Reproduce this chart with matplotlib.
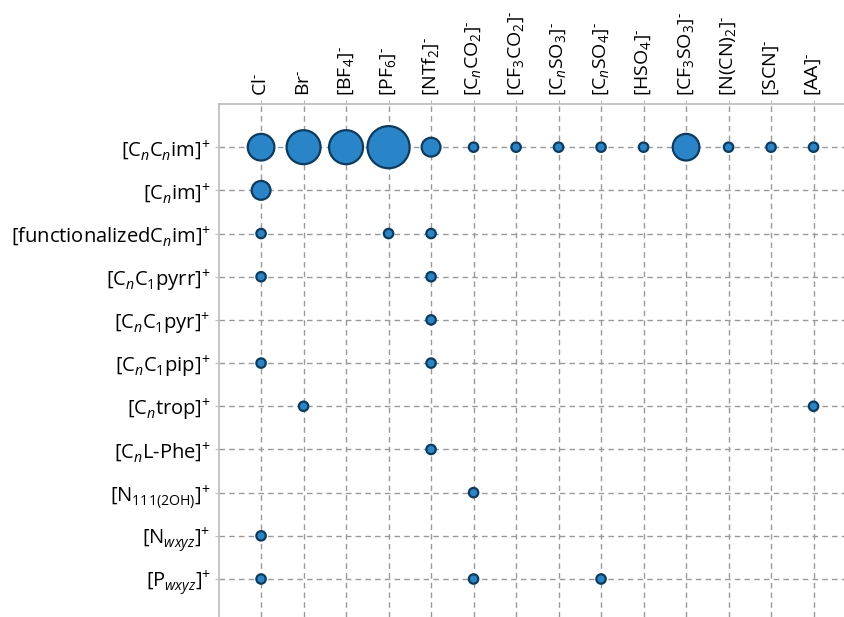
import numpy as np
import matplotlib.pyplot as plt

plt.rcParams['font.family'] = ['Open Sans', 'DejaVu Sans']
plt.rcParams['mathtext.fontset'] = 'custom'
plt.rcParams['mathtext.rm'] = 'Open Sans'
plt.rcParams['mathtext.it'] = 'Open Sans:italic'

anions = [r'Cl$^{\text{-}}$', r'Br$^{\text{-}}$', r'[BF$_4$]$^{\text{-}}$', r'[PF$_6$]$^{\text{-}}$',
          r'[NTf$_2$]$^{\text{-}}$', r'[C$_n$CO$_2$]$^{\text{-}}$', r'[CF$_3$CO$_2$]$^{\text{-}}$',
          r'[C$_n$SO$_3$]$^{\text{-}}$', r'[C$_n$SO$_4$]$^{\text{-}}$', r'[HSO$_4$]$^{\text{-}}$',
          r'[CF$_3$SO$_3$]$^{\text{-}}$', r'[N(CN)$_2$]$^{\text{-}}$', r'[SCN]$^{\text{-}}$',
          r'[AA]$^{\text{-}}$']

cations = [r'[C$_n$C$_n$im]$^{+}$', r'[C$_n$im]$^{+}$', r'[functionalizedC$_n$im]$^{+}$',
           r'[C$_n$C$_1$pyrr]$^{+}$', r'[C$_n$C$_1$pyr]$^{+}$', r'[C$_n$C$_1$pip]$^{+}$',
           r'[C$_n$trop]$^{+}$', r'[C$_n$L-Phe]$^{+}$', r'[N$_{\mathrm{111(2OH)}}$]$^{+}$',
           r'[N$_{wxyz}$]$^{+}$', r'[P$_{wxyz}$]$^{+}$']

# number of entries per cation (rows) / anion (columns), 0 = none
counts = [
    [8, 13, 13, 20, 4, 1, 1, 1, 1, 1, 8, 1, 1, 1],
    [4, 0, 0, 0, 0, 0, 0, 0, 0, 0, 0, 0, 0, 0],
    [1, 0, 0, 1, 1, 0, 0, 0, 0, 0, 0, 0, 0, 0],
    [1, 0, 0, 0, 1, 0, 0, 0, 0, 0, 0, 0, 0, 0],
    [0, 0, 0, 0, 1, 0, 0, 0, 0, 0, 0, 0, 0, 0],
    [1, 0, 0, 0, 1, 0, 0, 0, 0, 0, 0, 0, 0, 0],
    [0, 1, 0, 0, 0, 0, 0, 0, 0, 0, 0, 0, 0, 1],
    [0, 0, 0, 0, 1, 0, 0, 0, 0, 0, 0, 0, 0, 0],
    [0, 0, 0, 0, 0, 1, 0, 0, 0, 0, 0, 0, 0, 0],
    [1, 0, 0, 0, 0, 0, 0, 0, 0, 0, 0, 0, 0, 0],
    [1, 0, 0, 0, 0, 1, 0, 0, 1, 0, 0, 0, 0, 0],
]

c = np.array(counts)
yy, xx = np.nonzero(c)
sizes = c[yy, xx] * 46

fig = plt.figure(figsize=(8.45, 6.17), dpi=100)
ax = fig.add_axes([219/845, 0, 1 - 219/845, (617 - 104)/617])

ax.scatter(xx, yy, s=sizes, color='#2a85c8', edgecolor='#0d3b5e', linewidth=1.6, zorder=3)

ax.set_xticks(range(len(anions)))
ax.set_xticklabels(anions, rotation=90, fontsize=14)
ax.set_yticks(range(len(cations)))
ax.set_yticklabels(cations, fontsize=14.5)
ax.xaxis.tick_top()
ax.tick_params(axis='both', length=3, color='#bbbbbb', pad=3)
ax.set_xlim(-0.99, 13.74)
ax.set_ylim(10.88, -1.0)

ax.grid(True, linestyle='--', color='#999999', linewidth=1, dashes=(4, 3))
ax.set_axisbelow(True)
for side in ['right', 'bottom']:
    ax.spines[side].set_visible(False)
for side in ['left', 'top']:
    ax.spines[side].set_color('#bbbbbb')
    ax.spines[side].set_linewidth(1.2)

plt.savefig('out.png', dpi=100)
